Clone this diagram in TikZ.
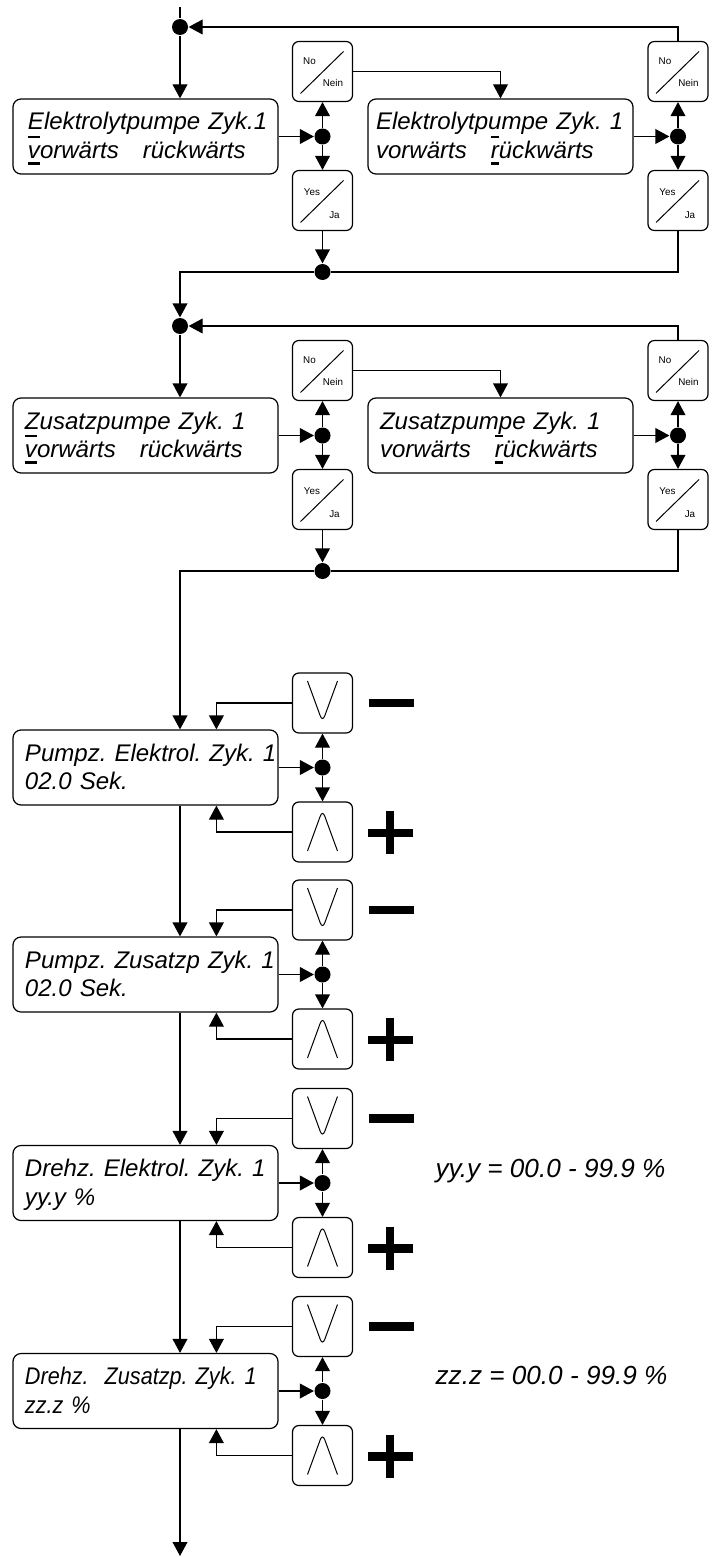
\documentclass[tikz,border=0pt]{standalone}
\usepackage{fontspec}
\setmainfont{Liberation Sans}
\newfontface\narrowit[FakeStretch=0.9]{Liberation Sans Italic}
\usetikzlibrary{calc}
\usetikzlibrary{arrows.meta}
\tikzset{>={Triangle[length=3.5mm, width=3.7mm]}}
\tikzstyle{lcd} = [draw, rounded corners=2mm, minimum width=66.25mm, minimum height=18.75mm, text width=66.25mm, inner xsep=0, inner ysep=0, align=left, text height=12pt, text depth=21.25pt, font=\fontsize{17.1}{20.6}\selectfont\itshape, execute at begin node={\leftskip=3mm}]
\tikzstyle{button} = [draw, rounded corners=1.6mm, minimum size=15mm, inner sep=0]
\tikzstyle{ynbutton} = [button, path picture={\draw [line width=0.25mm] ($(path picture bounding box.south west)+(8,-8)$) -- ($(path picture bounding box.north east)+(-9,10)$);}]
\tikzstyle{decbutton} = [button, path picture={\draw [line width=0.25mm] ($(path picture bounding box.center)+(-15,-22)$) -- ++(15,41) -- ++(15,-41);}]
\tikzstyle{incbutton} = [button, path picture={\draw [line width=0.25mm] ($(path picture bounding box.center)+(-15,19)$) -- ++(15,-41) -- ++(15,41);}]
\tikzstyle{junction} = [circle, fill, inner sep=0, minimum size=4mm]
\tikzstyle{btnlabel} = [inner sep=0, font=\fontsize{7}{8}\selectfont]
\tikzstyle{signbar} = [line width=2.2mm]
\tikzstyle{rangetext} = [inner sep=0, anchor=base west, font=\fontsize{18.6}{22}\selectfont\itshape]
\frenchspacing
% cursor marks above and below a letter
\newcommand{\curs}[1]{\leavevmode\setbox0\hbox{#1}\rlap{\rule[-4.3pt]{\wd0}{2.2pt}}\rlap{\rule[14.7pt]{\wd0}{1.6pt}}#1}

\begin{document}
\begin{tikzpicture}[x=0.25mm, y=-0.25mm, line width=0.3mm]
\useasboundingbox (0,0) rectangle (716,1557);

% Elektrolytpumpe
\coordinate (start) at (180,7);
\node [junction] (dA) at (180,27) {};
\node [lcd, execute at begin node={\leftskip=3.75mm}] (E1) at (145.5,136.5) {Elektrolytpumpe Zyk.1\\\curs{v}orwärts\ \ \ rückwärts};
\node [junction] (dB) at (322.5,136.5) {};
\node [ynbutton] (N1) at (322.5,71.5) {};
\node [btnlabel] (N1a) at ($(N1)+(-13,-10.5)$) {No};
\node [btnlabel] (N1b) at ($(N1)+(10.5,11.5)$) {Nein};
\node [ynbutton] (Y1) at (322.5,200.5) {};
\node [btnlabel] (Y1a) at ($(Y1)+(-10.5,-8.5)$) {Yes};
\node [btnlabel] (Y1b) at ($(Y1)+(12,14.5)$) {Ja};
\node [junction] (dC) at (322.5,272) {};
\node [lcd, execute at begin node={\leftskip=2mm}] (E2) at (500.5,136.5) {Elektrolytpumpe Zyk. 1\\vorwärts\ \ \ \curs{r}ückwärts};
\node [junction] (dD) at (678,136.5) {};
\node [ynbutton] (N2) at (678,71.5) {};
\node [btnlabel] (N2a) at ($(N2)+(-13,-10.5)$) {No};
\node [btnlabel] (N2b) at ($(N2)+(10.5,11.5)$) {Nein};
\node [ynbutton] (Y2) at (678,200.5) {};
\node [btnlabel] (Y2a) at ($(Y2)+(-10.5,-8.5)$) {Yes};
\node [btnlabel] (Y2b) at ($(Y2)+(12,14.5)$) {Ja};
\draw (start) -- (dA);
\draw [->] (dA) -- (E1.north -| dA);
\draw [->] (E1) -- (dB);
\draw [->] (dB) -- (N1);
\draw [->] (dB) -- (Y1);
\draw [->] (Y1) -- (dC);
\draw [->] (N1) -| (E2);
\draw [->] (E2) -- (dD);
\draw [->] (dD) -- (N2);
\draw [->] (dD) -- (Y2);
\draw (Y2) |- (dC);
\draw [->] (N2) |- (dA);

% Zusatzpumpe
\node [junction] (dA2) at (180,326) {};
\node [lcd] (Z1) at (145.5,435.5) {Zusatzpumpe Zyk. 1\\\curs{v}orwärts\ \ \ rückwärts};
\node [junction] (dB2) at (322.5,435.5) {};
\node [ynbutton] (N3) at (322.5,370.5) {};
\node [btnlabel] (N3a) at ($(N3)+(-13,-10.5)$) {No};
\node [btnlabel] (N3b) at ($(N3)+(10.5,11.5)$) {Nein};
\node [ynbutton] (Y3) at (322.5,499.5) {};
\node [btnlabel] (Y3a) at ($(Y3)+(-10.5,-8.5)$) {Yes};
\node [btnlabel] (Y3b) at ($(Y3)+(12,14.5)$) {Ja};
\node [junction] (dC2) at (322.5,571) {};
\node [lcd] (Z2) at (500.5,435.5) {Zusatzpumpe Zyk. 1\\vorwärts\ \ \ \curs{r}ückwärts};
\node [junction] (dD2) at (678,435.5) {};
\node [ynbutton] (N4) at (678,370.5) {};
\node [btnlabel] (N4a) at ($(N4)+(-13,-10.5)$) {No};
\node [btnlabel] (N4b) at ($(N4)+(10.5,11.5)$) {Nein};
\node [ynbutton] (Y4) at (678,499.5) {};
\node [btnlabel] (Y4a) at ($(Y4)+(-10.5,-8.5)$) {Yes};
\node [btnlabel] (Y4b) at ($(Y4)+(12,14.5)$) {Ja};
\draw [->] (dC) -| (dA2);
\draw [->] (dA2) -- (Z1.north -| dA2);
\draw [->] (Z1) -- (dB2);
\draw [->] (dB2) -- (N3);
\draw [->] (dB2) -- (Y3);
\draw [->] (Y3) -- (dC2);
\draw [->] (N3) -| (Z2);
\draw [->] (Z2) -- (dD2);
\draw [->] (dD2) -- (N4);
\draw [->] (dD2) -- (Y4);
\draw (Y4) |- (dC2);
\draw [->] (N4) |- (dA2);

% Pumpzeit Elektrolyt
\node [lcd] (P1) at (145.5,767.5) {Pumpz. Elektrol. Zyk. 1\\02.0 Sek.};
\node [junction] (p1) at (322.5,767.5) {};
\node [decbutton] (V1) at (322.5,703) {};
\node [incbutton] (U1) at (322.5,832) {};
\draw [signbar] ($(V1)+(46,0)$) -- ++(45,0);
\draw [signbar] ($(U1)+(45.5,1)$) -- ++(45,0) ($(U1)+(67.5,-21)$) -- ++(0,43);
\draw [->] (dC2) -| (P1.north -| dA);
\draw [->] (V1) -| ($(P1.north west)+(204,0)$);
\draw [->] (P1) -- (p1);
\draw [->] (p1) -- (V1);
\draw [->] (p1) -- (U1);
\draw [->] (U1) -| ($(P1.south west)+(204,0)$);

% Pumpzeit Zusatzpumpe
\node [lcd] (P2) at (145.5,974.5) {Pumpz. Zusatzp Zyk. 1\\02.0 Sek.};
\node [junction] (p2) at (322.5,974.5) {};
\node [decbutton] (V2) at (322.5,910) {};
\node [incbutton] (U2) at (322.5,1039) {};
\draw [signbar] ($(V2)+(46,0)$) -- ++(45,0);
\draw [signbar] ($(U2)+(45.5,1)$) -- ++(45,0) ($(U2)+(67.5,-21)$) -- ++(0,43);
\draw [->] (P1.south -| dA) -- (P2.north -| dA);
\draw [->] (V2) -| ($(P2.north west)+(204,0)$);
\draw [->] (P2) -- (p2);
\draw [->] (p2) -- (V2);
\draw [->] (p2) -- (U2);
\draw [->] (U2) -| ($(P2.south west)+(204,0)$);

% Drehzahl Elektrolyt
\node [lcd] (P3) at (145.5,1183) {Drehz. Elektrol. Zyk. 1\\yy.y \%};
\node [junction] (p3) at (322.5,1183) {};
\node [decbutton] (V3) at (322.5,1118.5) {};
\node [incbutton] (U3) at (322.5,1247.5) {};
\draw [signbar] ($(V3)+(46,0)$) -- ++(45,0);
\draw [signbar] ($(U3)+(45.5,1)$) -- ++(45,0) ($(U3)+(67.5,-21)$) -- ++(0,43);
\node [rangetext] (r3) at (435,1177.7) {yy.y = 00.0 - 99.9 \%};
\draw [->] (P2.south -| dA) -- (P3.north -| dA);
\draw [->] (V3) -| ($(P3.north west)+(204,0)$);
\draw [->] (P3) -- (p3);
\draw [->] (p3) -- (V3);
\draw [->] (p3) -- (U3);
\draw [->] (U3) -| ($(P3.south west)+(204,0)$);

% Drehzahl Zusatzpumpe
\node [lcd, font=\fontsize{17.1}{20.6}\narrowit] (P4) at (145.5,1391) {Drehz.\ \ Zusatzp. Zyk. 1\\zz.z \%};
\node [junction] (p4) at (322.5,1391) {};
\node [decbutton] (V4) at (322.5,1326.5) {};
\node [incbutton] (U4) at (322.5,1455.5) {};
\draw [signbar] ($(V4)+(46,0)$) -- ++(45,0);
\draw [signbar] ($(U4)+(45.5,1)$) -- ++(45,0) ($(U4)+(67.5,-21)$) -- ++(0,43);
\node [rangetext] (r4) at (435,1384) {zz.z = 00.0 - 99.9 \%};
\coordinate (end) at (180,1556);
\draw [->] (P3.south -| dA) -- (P4.north -| dA);
\draw [->] (V4) -| ($(P4.north west)+(204,0)$);
\draw [->] (P4) -- (p4);
\draw [->] (p4) -- (V4);
\draw [->] (p4) -- (U4);
\draw [->] (U4) -| ($(P4.south west)+(204,0)$);
\draw [->] (P4.south -| dA) -- (end);
\end{tikzpicture}
\end{document}
